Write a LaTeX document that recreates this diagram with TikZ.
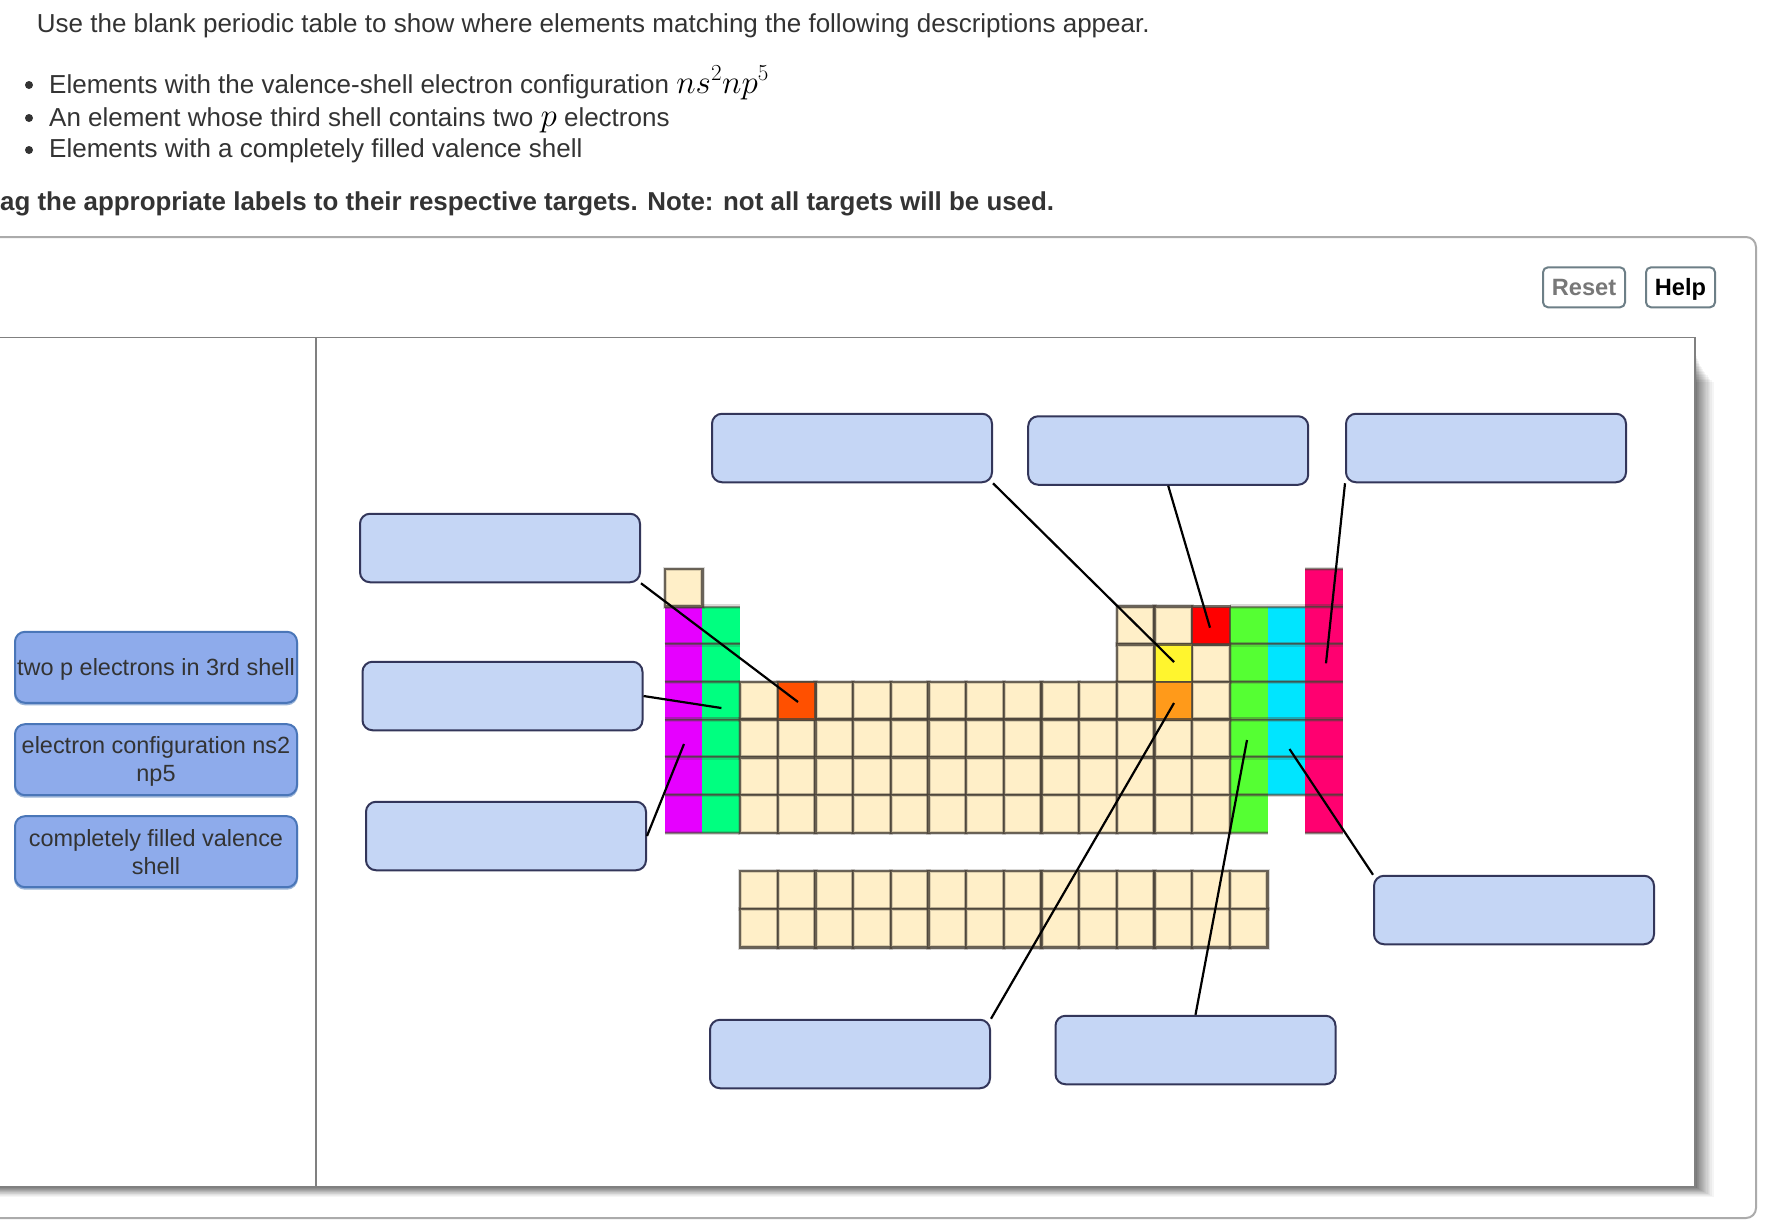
\documentclass[tikz,border=0pt]{standalone}
\usepackage{fontspec}
\setmainfont{Liberation Sans}
\definecolor{txt}{HTML}{333333}
\definecolor{cream}{HTML}{FFEFC8}
\definecolor{gridc}{HTML}{4A4238}
\definecolor{cMag}{HTML}{E600FF}
\definecolor{cGrn}{HTML}{00FF80}
\definecolor{cLime}{HTML}{55FF33}
\definecolor{cCyan}{HTML}{00E5FF}
\definecolor{cPink}{HTML}{FF0070}
\definecolor{cRust}{HTML}{FF5000}
\definecolor{cRed}{HTML}{FF0000}
\definecolor{cYel}{HTML}{FFF52E}
\definecolor{cOrg}{HTML}{FF9A1A}
\definecolor{lblfill}{HTML}{8EABEB}
\definecolor{lbledge}{HTML}{4A76B8}
\definecolor{blankfill}{HTML}{C5D6F5}
\definecolor{blankedge}{HTML}{33365A}
\definecolor{HTMLbtn}{HTML}{6D7F87}
\newcommand{\cw}{37.68}
\newcommand{\ch}{37.67}
\newcommand{\xo}{664.7}
\newcommand{\yo}{569}
\newcommand{\lowered}[1]{\raisebox{-2pt}[\height][\depth]{#1}}
\tikzset{
  prose/.style={anchor=base west,inner sep=0pt,text=txt,font=\fontsize{26}{30}\selectfont},
  bulletdot/.style={circle,fill=txt,inner sep=0pt,minimum size=8pt},
  blank/.style={draw=blankedge,fill=blankfill,line width=2pt,rounded corners=10pt,minimum width=280pt,minimum height=68.5pt,inner sep=0pt},
  dragl/.style={draw=lbledge,fill=lblfill,line width=2pt,rounded corners=10pt,minimum width=282pt,minimum height=71pt,inner sep=0pt,text=txt,align=center,font=\fontsize{23.45}{28}\selectfont,
     preaction={draw=lbledge!55,transform canvas={yshift=-1.5pt}}},
  btn/.style={draw=HTMLbtn,fill=white,line width=2pt,rounded corners=5pt,minimum height=40pt,inner sep=0pt,text depth=0pt,font=\bfseries\fontsize{23.6}{28}\selectfont},
  wire/.style={black,line width=2.2pt},
  softline/.style={gridc,line width=2.4pt,opacity=.78},
  softfaint/.style={gridc,line width=4.4pt,opacity=.2}
}
\begin{document}
\begin{tikzpicture}[x=1pt,y=-1pt]
\clip (0,0) rectangle (1772,1224);
\fill[white] (0,0) rectangle (1772,1224);
% question text
\node[prose] (q0) at (36.7,32) {Use the blank periodic table to show where elements matching the following descriptions appear.};
\node[bulletdot] (b1) at (29,85) {};
\node[prose] (q1) at (49,93) {Elements with the valence-shell electron configuration \scalebox{1.33}{\color{black}$ns^2np^5$}};
\node[bulletdot] (b2) at (29,118) {};
\node[prose] (q2) at (49,126) {An element whose third shell contains two \scalebox{1.33}{\color{black}$p$} electrons};
\node[bulletdot] (b3) at (29,150) {};
\node[prose] (q3) at (49,157.6) {Elements with a completely filled valence shell};
\node[prose,font=\bfseries\fontsize{25.9}{30}\selectfont] (q4) at (0,210) {ag the appropriate labels to their respective targets. Note: not all targets will be used.};
% outer frame
\draw[draw=black!33,line width=2pt,rounded corners=10pt] (-20,237) rectangle (1756,1218);
% buttons
\node[btn,minimum width=82pt,text=black!53] (reset) at (1584,287.3) {Reset};
\node[btn,minimum width=69pt,text=black] (help) at (1680.5,287.3) {Help};
% panel shadow
\foreach \i in {0,...,23}{
  \fill[black,opacity=.04] (-20,345+1.6*\i) rectangle (1695+0.035*\i*\i,1187+0.018*\i*\i);
}
\draw[fill=white,draw=black!50,line width=1.4pt] (-20,337.3) rectangle (1695,1187);
\draw[black!50,line width=2.4pt] (-20,1187) -- (1695,1187);
\draw[black!50,line width=2pt] (316,337.3) -- (316,1187);
% periodic table: coloured groups
\foreach \c/\r/\col in {0/1/cMag,0/2/cMag,0/3/cMag,0/4/cMag,0/5/cMag,0/6/cMag,
 1/1/cGrn,1/2/cGrn,1/3/cGrn,1/4/cGrn,1/5/cGrn,1/6/cGrn,
 15/1/cLime,15/2/cLime,15/3/cLime,15/4/cLime,15/5/cLime,15/6/cLime,
 16/1/cCyan,16/2/cCyan,16/3/cCyan,16/4/cCyan,16/5/cCyan,
 17/0/cPink,17/1/cPink,17/2/cPink,17/3/cPink,17/4/cPink,17/5/cPink,17/6/cPink}{
  \fill[\col] (\xo+\cw*\c,\yo+\ch*\r) rectangle (\xo+\cw*\c+\cw,\yo+\ch*\r+\ch);
  \draw[softfaint] (\xo+\cw*\c,\yo+\ch*\r) -- (\xo+\cw*\c+\cw,\yo+\ch*\r) (\xo+\cw*\c,\yo+\ch*\r+\ch) -- (\xo+\cw*\c+\cw,\yo+\ch*\r+\ch);
  \draw[gridc,line width=1.8pt,opacity=.55] (\xo+\cw*\c,\yo+\ch*\r) -- (\xo+\cw*\c+\cw,\yo+\ch*\r) (\xo+\cw*\c,\yo+\ch*\r+\ch) -- (\xo+\cw*\c+\cw,\yo+\ch*\r+\ch);
}
% cream cells, main block
\foreach \c/\r in {0/0,12/1,13/1,12/2,14/2}{
  \fill[cream] (\xo+\cw*\c,\yo+\ch*\r) rectangle +(\cw,\ch);
  \draw[softfaint] (\xo+\cw*\c,\yo+\ch*\r) rectangle +(\cw,\ch);
  \draw[softline] (\xo+\cw*\c,\yo+\ch*\r) rectangle +(\cw,\ch);
}
\foreach \c in {2,...,14}{
  \foreach \r in {3,...,6}{
    \fill[cream] (\xo+\cw*\c,\yo+\ch*\r) rectangle +(\cw,\ch);
    \draw[softfaint] (\xo+\cw*\c,\yo+\ch*\r) rectangle +(\cw,\ch);
    \draw[softline] (\xo+\cw*\c,\yo+\ch*\r) rectangle +(\cw,\ch);
  }
}
% highlighted cells
\foreach \c/\r/\col in {3/3/cRust,14/1/cRed,13/2/cYel,13/3/cOrg}{
  \fill[\col] (\xo+\cw*\c,\yo+\ch*\r) rectangle +(\cw,\ch);
  \draw[softline] (\xo+\cw*\c,\yo+\ch*\r) rectangle +(\cw,\ch);
}
% f block
\foreach \c in {2,...,15}{
  \foreach \r in {0,1}{
    \fill[cream] (\xo+\cw*\c,871+38.15*\r) rectangle +(\cw,38.15);
    \draw[softfaint] (\xo+\cw*\c,871+38.15*\r) rectangle +(\cw,38.15);
    \draw[softline] (\xo+\cw*\c,871+38.15*\r) rectangle +(\cw,38.15);
  }
}
% draggable labels
\node[dragl] (l1) at (156,667.3) {\lowered{two p electrons in 3rd shell}};
\node[dragl] (l2) at (156,759.7) {\lowered{electron configuration ns2}\\\lowered{np5}};
\node[dragl] (l3) at (156,851.7) {completely filled valence\\shell};
% blank targets
\node[blank] (t1) at (852,448) {};
\node[blank] (t2) at (1168.2,450.5) {};
\node[blank] (t3) at (1486,448) {};
\node[blank] (t4) at (500,548) {};
\node[blank] (t5) at (502.5,696) {};
\node[blank] (t6) at (506,836) {};
\node[blank] (t7) at (1514,910) {};
\node[blank] (t8) at (850,1054) {};
\node[blank] (t9) at (1195.5,1050) {};
% connector ends
\coordinate (e1) at (1174,662);
\coordinate (e2) at (1210,627.7);
\coordinate (e3) at (1326,663.3);
\coordinate (e4) at (798,702);
\coordinate (e5) at (721.4,708);
\coordinate (e6) at (684,744);
\coordinate (e7) at (1289.5,749);
\coordinate (e8) at (1174,703);
\coordinate (e9) at (1247,740);
\draw[wire] (t1.south east) -- (e1);
\draw[wire] (t2.south) -- (e2);
\draw[wire] (t3.south west) -- (e3);
\draw[wire] (t4.south east) -- (e4);
\draw[wire] (t5.east) -- (e5);
\draw[wire] (t6.east) -- (e6);
\draw[wire] (t7.north west) -- (e7);
\draw[wire] (t8.north east) -- (e8);
\draw[wire] (t9.north) -- (e9);
\end{tikzpicture}
\end{document}
